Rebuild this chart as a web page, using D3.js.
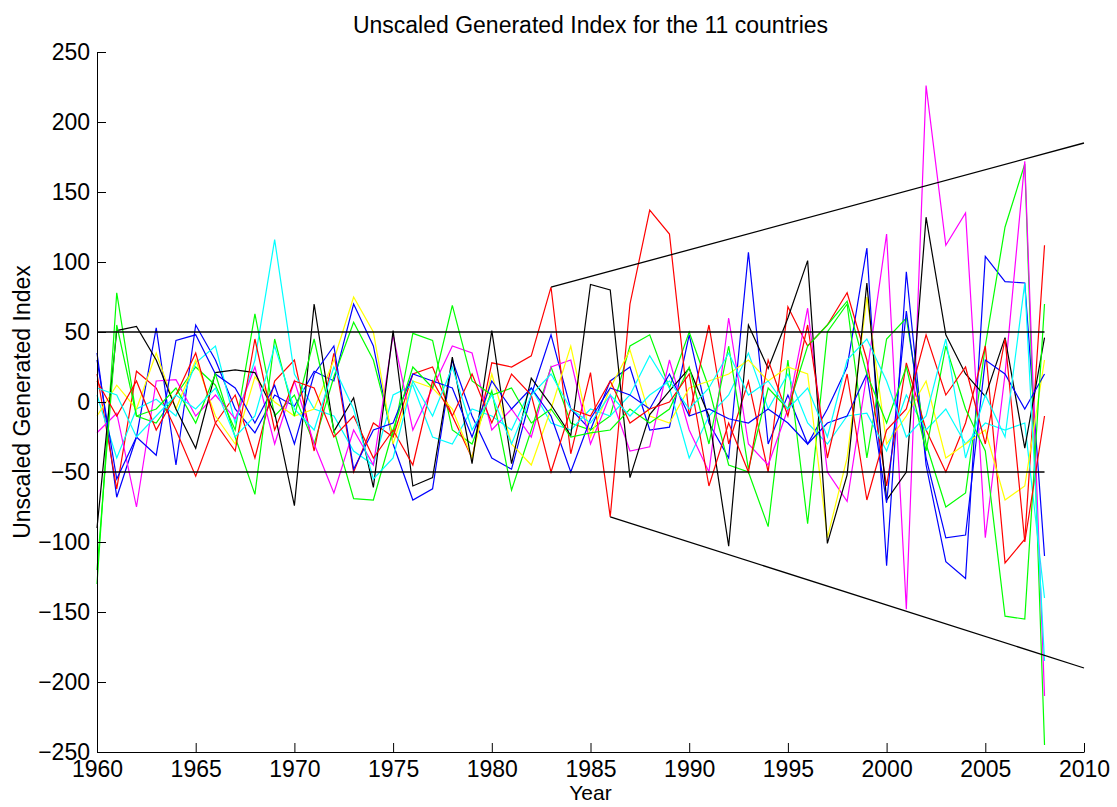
<!DOCTYPE html>
<html>
<head>
<meta charset="utf-8">
<script src="https://cdn.jsdelivr.net/npm/d3@7"></script>
<style>
  body { margin: 0; background: #fff; }
  text { font-family: "Liberation Sans", Arial, Helvetica, sans-serif; fill: #000; }
  .axis path, .axis line { stroke: #000; stroke-width: 1; }
  .series { fill: none; stroke-width: 1.2; }
  .ref { fill: none; stroke: #000; stroke-width: 1.3; }
</style>
</head>
<body>
<div id="graph"></div>
<script>
// years 1960..2008
var years = d3.range(1960, 2009);

// one array per country (MATLAB default colour order b g r c m y k ...)
var blue1 = [35, -68, -25, 53, -45, 55, 30, -5, -22, 5,
  -3, 22, 15, 70, 40, -30, -70, -62, 30, -10,
  -40, -48, 5, 48, -5, -20, 15, 25, -20, -18,
  48, -15, -40, 107, -30, 5, -30, -5, 25, 110,
  -117, 93, -45, -114, -126, 104, 86, 85, -110];
var green1 = [-130, 78, -10, -15, 5, 25, 12, -20, 63, -10,
  5, -30, 18, 57, 30, -25, 49, 44, -20, -30,
  8, -63, -20, 25, -15, -20, -10, 40, 48, 10,
  50, 10, -45, -50, -89, 30, -87, 50, 70, -40,
  45, 60, -30, -75, -65, 40, 125, 170, -245];
var red1 = [20, -62, 22, 10, -20, -53, -15, 5, -40, 15,
  30, -35, 35, -50, -15, -25, 20, 25, -10, -40,
  28, 25, 33, 82, -37, 21, -82, 70, 137, 120,
  -10, 55, -30, 15, -50, 68, 40, 55, 78, 30,
  -60, 28, -20, -50, -15, 40, -115, -98, 112];
var cyan1 = [5, -40, -5, 2, -10, 28, 40, -15, 30, 116,
  20, -5, -10, -35, -45, 5, 12, -25, -30, -5,
  -10, -20, 10, -15, -20, -5, -10, 5, 33, 10,
  -40, -10, 5, 35, -5, 20, -15, -30, -10, -8,
  -35, 5, -20, -5, -30, -15, -20, -15, -140];
var magenta = [-22, -8, -75, 15, 16, -10, 5, -12, 25, -30,
  15, -30, -65, -20, -45, 48, -20, 10, 40, 35,
  -20, -5, -25, 25, 30, -30, 5, -35, -32, 30,
  -20, -50, 60, -30, -45, -5, 67, -50, -71, 20,
  120, -148, 226, 112, 135, -97, 20, 172, -210];
var yellow = [-10, 12, -5, 35, -5, 30, -10, -30, 18, 0,
  -10, -5, 30, 75, 50, -30, 15, 10, -5, -40,
  20, -30, -45, -5, 40, -25, 10, 37, -10, -15,
  10, 15, 20, 30, 15, 25, 20, -97, -40, 75,
  -30, -10, 15, -40, -30, -20, -70, -60, 30];
var black = [-90, 51, 54, 30, -5, -33, 21, 23, 21, -8,
  -74, 70, -21, 3, -61, 51, -60, -54, 32, -44,
  51, -44, 17, -2, -24, 84, 80, -54, -9, 8,
  24, -10, -103, 55, 24, 60, 101, -101, -52, 85,
  -70, -50, 132, 48, 20, 4, 46, -33, 46];
var blue2 = [30, -55, -25, -38, 44, 48, 20, 10, -15, 12,
  -30, 20, 40, -48, -20, -15, 20, 15, 10, -25,
  15, -5, 10, -10, -50, -12, 10, 5, -5, 20,
  -10, -5, -12, -15, -5, -15, -30, -15, -10, 20,
  -72, 65, -40, -97, -95, 30, 20, -5, 20];
var green2 = [-120, 55, -10, -5, 10, -15, 20, -25, -66, 45,
  -10, 45, -20, -69, -70, -20, 25, 10, 69, 15,
  5, 10, -15, -5, -25, -22, -20, -5, -15, -5,
  25, -30, 40, -48, 10, -5, 40, 55, 72, 20,
  -15, 25, -35, 40, -5, -35, -153, -155, 70];
var red2 = [15, -10, 15, -20, 5, 35, -15, -35, 45, -20,
  15, 10, -25, -10, -40, -20, -45, 15, -10, 20,
  -15, 20, 5, -50, -5, -10, 15, -15, -5, 0,
  20, -60, -15, -50, 30, -10, 55, -40, 20, -70,
  -20, -5, 48, 5, 25, -30, 45, -100, -10];
var cyan2 = [10, 5, -25, -10, 5, -5, 10, -25, -10, 40,
  -5, -20, 25, -5, -55, -40, 15, -10, 25, -20,
  5, -30, 5, 20, -5, -15, 5, -10, 5, 15,
  -5, 10, 35, 5, 15, -5, 10, -25, 30, 45,
  15, -25, -10, 45, -40, 5, -25, 85, -185];

var series = [blue1, green1, red1, cyan1, magenta, yellow, black, blue2, green2, red2, cyan2];
var colors = ["#0000ff", "#00ff00", "#ff0000", "#00ffff", "#ff00ff", "#ffff00", "#000000",
              "#0000ff", "#00ff00", "#ff0000", "#00ffff"];

// reference lines: [x1, y1, x2, y2]
var bandLines = [[1960, 50, 2008, 50], [1960, -50, 2008, -50]];
var trendLines = [[1983, 82, 2010, 185], [1986, -82, 2010, -190]];

var xTicks = d3.range(1960, 2011, 5);
var yTicks = d3.range(-250, 251, 50);

var W = 1117, H = 807;
var margin = { top: 52, right: 33, bottom: 55, left: 97 };
var width = W - margin.left - margin.right,
    height = H - margin.top - margin.bottom;

var svg = d3.select("#graph").append("svg")
  .attr("width", W)
  .attr("height", H);

var g = svg.append("g")
  .attr("transform", "translate(" + margin.left + "," + margin.top + ")");

var x = d3.scaleLinear().domain([1960, 2010]).range([0, width]);
var y = d3.scaleLinear().domain([-250, 250]).range([height, 0]);

var line = d3.line()
  .x(function(d, i) { return x(years[i]); })
  .y(function(d) { return y(d); });

// data lines
g.selectAll(".series")
  .data(series)
  .enter()
  .append("path")
  .attr("class", "series")
  .attr("stroke", function(d, i) { return colors[i]; })
  .attr("d", line);

// +-50 band and widening trend lines
g.selectAll(".ref")
  .data(bandLines.concat(trendLines))
  .enter()
  .append("line")
  .attr("class", "ref")
  .attr("x1", function(d) { return x(d[0]); })
  .attr("y1", function(d) { return y(d[1]); })
  .attr("x2", function(d) { return x(d[2]); })
  .attr("y2", function(d) { return y(d[3]); });

// axes, ticks pointing inwards like matlab
g.append("g")
  .attr("class", "x axis")
  .attr("transform", "translate(0," + height + ")")
  .call(d3.axisBottom(x).tickValues(xTicks).tickFormat(d3.format("d"))
    .tickSizeInner(-9).tickSizeOuter(0).tickPadding(9))
  .selectAll("text")
  .style("font-size", "23px");

g.append("g")
  .attr("class", "y axis")
  .call(d3.axisLeft(y).tickValues(yTicks)
    .tickSizeInner(-9).tickSizeOuter(0).tickPadding(7))
  .selectAll("text")
  .style("font-size", "23px");

// title
svg.append("text")
  .attr("x", margin.left + width / 2)
  .attr("y", 33)
  .style("text-anchor", "middle")
  .style("font-size", "23px")
  .text("Unscaled Generated Index for the 11 countries");

// x label
svg.append("text")
  .attr("x", margin.left + width / 2)
  .attr("y", 800)
  .style("text-anchor", "middle")
  .style("font-size", "21px")
  .text("Year");

// y label
svg.append("text")
  .attr("transform", "rotate(-90)")
  .attr("x", -(margin.top + height / 2))
  .attr("y", 30)
  .style("text-anchor", "middle")
  .style("font-size", "23px")
  .text("Unscaled Generated Index");
</script>
</body>
</html>
